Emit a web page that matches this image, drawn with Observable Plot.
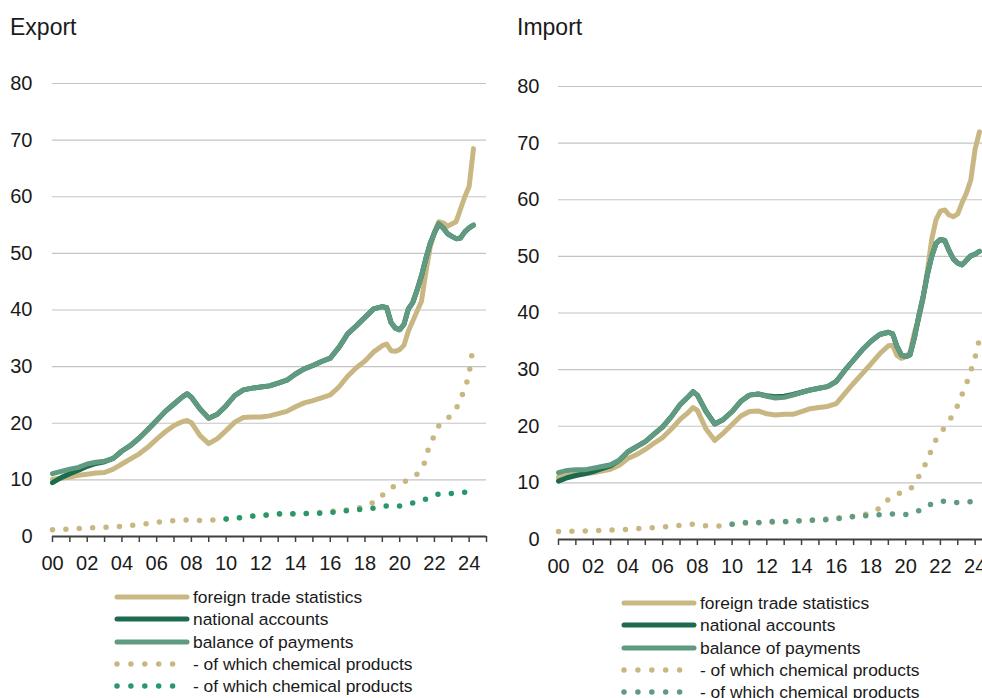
<!DOCTYPE html>
<html>
<head>
<meta charset="utf-8">
<script src="https://cdn.jsdelivr.net/npm/d3@7"></script>
<script src="https://cdn.jsdelivr.net/npm/@observablehq/plot@0.6"></script>
<style>
  html, body { margin: 0; padding: 0; background: #fff; }
  #root { position: relative; width: 982px; height: 698px; overflow: hidden; background: #fff; font-family: "Liberation Sans", Arial, sans-serif; color: #1a1a1a; }
  .title { position: absolute; font-size: 23px; line-height: 1; }
  .panel { position: absolute; width: 490px; }
  .panel svg { max-width: none !important; }
  .legend { position: absolute; font-family: "Liberation Sans", Arial, sans-serif; font-size: 17.4px; }
  .legend .row { position: absolute; left: 0; height: 22px; white-space: nowrap; }
  .legend svg { position: absolute; left: 0; top: 0; }
  .legend span { position: absolute; top: 0; line-height: 22px; }
</style>
</head>
<body>
<div id="root">
  <div class="title" style="left:10px; top:16px;">Export</div>
  <div class="title" style="left:517px; top:16px;">Import</div>
  <div class="panel" id="exportPanel" style="left:0px; top:0px;"></div>
  <div class="panel" id="importPanel" style="left:506px; top:3px;"></div>
  <div class="legend" id="exportLegend" style="left:114px; top:586px;"></div>
  <div class="legend" id="importLegend" style="left:621px; top:592px;"></div>
</div>
<script>
// ---------- DATA ----------
const yTicks = [0, 10, 20, 30, 40, 50, 60, 70, 80];
const yearTicks = [2000,2001,2002,2003,2004,2005,2006,2007,2008,2009,2010,2011,2012,2013,2014,2015,2016,2017,2018,2019,2020,2021,2022,2023,2024,2025];
const yearLabels = ["00","","02","","04","","06","","08","","10","","12","","14","","16","","18","","20","","22","","24",""];

const seriesNames = ["foreign trade statistics", "national accounts", "balance of payments", "- of which chemical products", "- of which chemical products"];

// shared time grid of the three main lines (decimal years)
const mainTimes = [2000,2000.5,2001,2001.5,2002,2002.5,2003,2003.5,2004,2004.5,2005,2005.5,2006,2006.5,2007,2007.5,2007.75,
  2008,2008.5,2009,2009.5,2010,2010.5,2011,2011.5,2012,2012.5,2013,2013.5,2014,2014.5,2015,2015.5,2016,2016.5,2017,2017.5,2018,2018.5,
  2019,2019.25,2019.5,2019.75,2020,2020.25,2020.5,2020.75,2021,2021.25,2021.5,2021.75,2022,2022.25,2022.5,2022.75,2023,2023.25,2023.5,2023.75,2024,2024.25];

// Export
const exportFTS = [10.1,10.3,10.5,10.8,11.0,11.2,11.3,11.9,12.8,13.7,14.6,15.8,17.2,18.5,19.6,20.3,20.5,
  20.1,17.8,16.4,17.3,18.7,20.2,21.0,21.1,21.1,21.3,21.7,22.1,22.9,23.6,24.0,24.5,25.0,26.4,28.3,29.8,31.0,32.6,
  33.7,34.0,32.8,32.7,33.0,33.8,36.3,38.0,39.8,41.5,46.5,51.0,53.8,55.6,55.4,54.8,55.2,55.6,57.8,60.0,61.8,68.5];
const exportNA = [9.5,10.4,11.1,11.7,12.4,12.9,13.2,13.8,15.1,16.1,17.4,18.9,20.5,22.1,23.4,24.7,25.2,
  24.6,22.5,20.9,21.6,23.1,24.9,25.9,26.2,26.4,26.6,27.1,27.6,28.7,29.6,30.2,30.9,31.5,33.4,35.8,37.2,38.7,40.2,
  40.6,40.4,37.8,36.8,36.5,37.5,40.2,41.3,43.5,46.0,49.0,51.7,53.6,55.2,54.5,53.5,53.0,52.6,52.7,53.8,54.5,55.0];
const exportBoP = [11.1,11.5,11.9,12.2,12.8,13.1,13.3,13.8,15.1,16.1,17.4,18.9,20.5,22.1,23.4,24.7,25.2,
  24.6,22.5,20.9,21.6,23.1,24.9,25.9,26.2,26.4,26.6,27.1,27.6,28.7,29.6,30.2,30.9,31.5,33.4,35.8,37.2,38.7,40.2,
  40.6,40.4,37.8,36.8,36.5,37.5,40.2,41.3,43.5,46.0,49.0,51.7,53.6,55.2,54.5,53.5,53.0,52.6,52.7,53.8,54.5,55.0];

const exportChemFTSTimes = [2000,2001,2002,2003,2004,2005,2006,2007,2007.75,2008.5,2009.25,2010,2011,2012,2013,2014,2015,2016,2017,2017.75,
  2018.5,2019,2019.5,2020.25,2020.75,2021,2021.4,2021.6,2021.9,2022.2,2022.6,2023.2,2023.5,2023.8,2024,2024.1,2024.25];
const exportChemFTS = [1.2,1.3,1.5,1.6,1.8,2.1,2.5,2.8,2.9,2.8,2.9,3.1,3.4,3.7,3.9,4.0,4.1,4.4,4.7,5.1,
  6.0,7.3,8.6,9.6,10.5,11.0,12.8,15.0,17.2,19.4,20.3,22.2,24.2,26.5,28.7,31.1,33.8];
const exportChemBoPTimes = [2010,2011,2011.5,2012.25,2013,2014,2015,2015.5,2016.25,2017,2017.75,2018.5,2019.25,2020,2020.75,2021.5,2022.25,2023,2023.75];
const exportChemBoP = [3.1,3.4,3.6,3.8,4.0,4.0,4.1,4.1,4.3,4.6,4.8,5.0,5.4,5.4,5.9,6.6,7.5,7.6,7.8];

// Import
const importFTS = [11.0,11.3,11.5,11.6,11.8,12.1,12.4,13.1,14.3,15.0,15.9,17.0,18.0,19.5,21.2,22.5,23.3,
  22.8,19.5,17.5,18.8,20.3,21.8,22.6,22.7,22.2,22.0,22.1,22.1,22.6,23.1,23.3,23.5,24.0,25.8,27.6,29.3,31.0,32.8,
  34.2,34.3,32.5,32.0,32.3,33.0,36.5,39.0,42.5,47.5,53.0,56.5,58.0,58.2,57.3,57.0,57.5,59.5,61.2,63.5,69.0,72.0];
const importNA = [10.3,10.9,11.3,11.6,12.0,12.5,13.0,14.0,15.5,16.4,17.3,18.6,19.9,21.7,23.8,25.3,26.1,
  25.5,22.6,20.4,21.2,22.6,24.4,25.5,25.7,25.4,25.2,25.3,25.6,26.0,26.4,26.7,27.0,27.9,29.9,31.7,33.5,35.0,36.2,
  36.6,36.3,34.1,32.6,32.3,32.6,35.6,39.4,42.8,46.8,50.0,52.3,53.0,52.8,51.0,49.5,48.8,48.5,49.3,50.1,50.4,50.9];
const importBoP = [11.8,12.2,12.3,12.3,12.6,12.9,13.2,14.0,15.5,16.4,17.3,18.6,19.9,21.7,23.8,25.3,26.1,
  25.5,22.6,20.4,21.2,22.6,24.4,25.5,25.7,25.3,25.0,25.1,25.5,26.0,26.4,26.7,27.0,27.9,29.9,31.7,33.5,35.0,36.2,
  36.6,36.3,34.1,32.6,32.3,32.6,35.6,39.4,42.8,46.8,50.0,52.3,53.0,52.8,51.0,49.5,48.8,48.5,49.3,50.1,50.4,50.9];

const importChemFTSTimes = [2000,2001,2002,2003,2004,2005,2006,2007,2007.75,2008.5,2009.25,2010,2011,2012,2013,2014,2015,2016,2017,2017.75,
  2018.5,2019,2019.6,2020.3,2020.75,2021.1,2021.4,2021.7,2022.1,2022.5,2022.9,2023.2,2023.5,2023.75,2024,2024.2];
const importChemFTS = [1.4,1.45,1.55,1.65,1.8,2.0,2.2,2.5,2.7,2.4,2.4,2.7,2.9,3.0,3.1,3.3,3.5,3.8,4.1,4.5,
  5.5,7.1,8.1,9.0,11.1,13.1,15.2,17.4,19.2,20.9,23.0,25.3,27.5,29.8,32.2,34.8];
const importChemBoPTimes = [2010,2010.75,2011.5,2012.3,2013.1,2013.8,2014.6,2015.4,2016.1,2016.9,2017.7,2018.5,2019.2,2020,2020.8,2021.5,2022.25,2023,2023.75];
const importChemBoP = [2.7,3.0,3.0,3.2,3.2,3.3,3.4,3.5,3.7,4.0,4.2,4.4,4.5,4.4,5.1,6.3,6.8,6.5,6.7];

// ---------- STYLE ----------
const C = { tan: "#c9b783", dark: "#1d6b4d", bop: "#5f9a81", chemExp: "#26986c", chemImp: "#5f9a83" };
const tickFont = '"Liberation Sans", Arial, sans-serif';

function rows(times, values) { return times.map((t, i) => ({ t, v: values[i] })); }

function panel(cfg) {
  const solid = { x: "t", y: "v", strokeWidth: 5, strokeLinecap: "round", strokeLinejoin: "round" };
  const dotted = { x: "t", y: "v", strokeWidth: 5.5, strokeLinecap: "round", strokeLinejoin: "round", strokeDasharray: "0 13.4" };
  return Plot.plot({
    width: 490, height: 580,
    marginLeft: 52, marginRight: 4, marginTop: 83, marginBottom: 44,
    x: { domain: [2000, 2025] },
    y: { domain: [0, 80] },
    style: { background: "transparent", color: "#1a1a1a", fontFamily: tickFont, overflow: "visible", maxWidth: "none" },
    marks: [
      Plot.ruleY(yTicks.filter(d => d > 0), { stroke: "#c4c4c4", strokeWidth: 1.2 }),
      Plot.axisY({ ticks: yTicks, tickSize: 0, tickPadding: cfg.yPad, fontSize: 20, label: null, tickFormat: d => String(d) }),
      Plot.axisX({ ticks: yearTicks, tickSize: 6, tickPadding: 13, fontSize: 20, label: null, stroke: "#404040", strokeWidth: 1.5,
                   tickFormat: d => yearLabels[yearTicks.indexOf(d)] }),
      Plot.ruleY([0], { stroke: "#404040", strokeWidth: 1.8 }),
      Plot.line(rows(mainTimes, cfg.fts), { ...solid, stroke: C.tan }),
      Plot.line(rows(mainTimes, cfg.na), { ...solid, stroke: C.dark }),
      Plot.line(rows(mainTimes, cfg.bop), { ...solid, stroke: C.bop }),
      Plot.line(rows(cfg.chemFTSTimes, cfg.chemFTS), { ...dotted, stroke: C.tan }),
      Plot.line(rows(cfg.chemBoPTimes, cfg.chemBoP), { ...dotted, stroke: cfg.chemColor })
    ]
  });
}

document.getElementById("exportPanel").appendChild(panel({
  yPad: 20, fts: exportFTS, na: exportNA, bop: exportBoP,
  chemFTSTimes: exportChemFTSTimes, chemFTS: exportChemFTS,
  chemBoPTimes: exportChemBoPTimes, chemBoP: exportChemBoP, chemColor: C.chemExp
}));
document.getElementById("importPanel").appendChild(panel({
  yPad: 19, fts: importFTS, na: importNA, bop: importBoP,
  chemFTSTimes: importChemFTSTimes, chemFTS: importChemFTS,
  chemBoPTimes: importChemBoPTimes, chemBoP: importChemBoP, chemColor: C.chemImp
}));

// ---------- LEGENDS ----------
function legend(el, chemColor) {
  const colors = [C.tan, C.dark, C.bop, C.tan, chemColor];
  const container = document.getElementById(el);
  seriesNames.forEach((name, i) => {
    const row = document.createElement("div");
    row.className = "row";
    row.style.top = (i * 22.3) + "px";
    const dottedRow = i >= 3;
    row.innerHTML =
      `<svg width="76" height="22"><line x1="3" x2="${dottedRow ? 72 : 73}" y1="11" y2="11" stroke="${colors[i]}" stroke-width="${dottedRow ? 5.5 : 5}" stroke-linecap="round" ${dottedRow ? 'stroke-dasharray="0 13.9"' : ''}/></svg>` +
      `<span style="left:79px">${name}</span>`;
    container.appendChild(row);
  });
}
legend("exportLegend", C.chemExp);
legend("importLegend", C.chemImp);
</script>
</body>
</html>
